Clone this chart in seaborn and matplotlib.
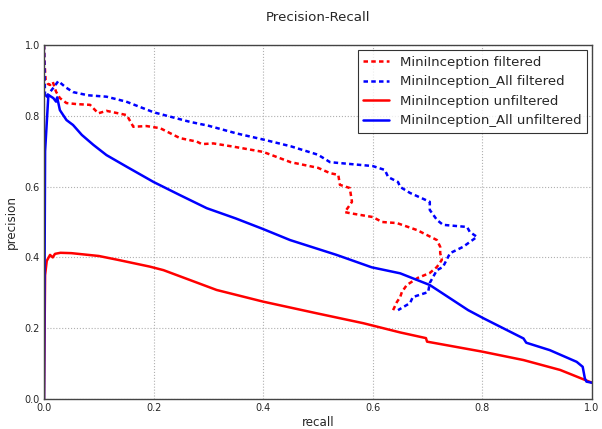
import matplotlib
matplotlib.use("Agg")
import matplotlib.pyplot as plt
import seaborn as sns
import pandas as pd

# ---- data ----
red_f_recall = [0.0, 0.001, 0.003, 0.007, 0.011, 0.016, 0.022, 0.029, 0.041, 0.06, 0.084, 0.099,
                0.114, 0.151, 0.163, 0.187, 0.212, 0.248, 0.279, 0.288, 0.309, 0.345, 0.4, 0.45,
                0.5, 0.522, 0.537, 0.54, 0.558, 0.562, 0.549, 0.558, 0.6, 0.617, 0.644, 0.681,
                0.717, 0.723, 0.723, 0.726, 0.717, 0.704, 0.682, 0.662, 0.653, 0.65, 0.644, 0.637]
red_f_precision = [1.0, 0.95, 0.9, 0.89, 0.887, 0.896, 0.868, 0.85, 0.836, 0.833, 0.831, 0.807,
                   0.814, 0.802, 0.769, 0.771, 0.765, 0.737, 0.727, 0.72, 0.722, 0.713, 0.698,
                   0.669, 0.653, 0.638, 0.633, 0.605, 0.596, 0.557, 0.528, 0.525, 0.514, 0.5,
                   0.497, 0.477, 0.449, 0.43, 0.412, 0.393, 0.373, 0.356, 0.342, 0.322, 0.302,
                   0.288, 0.274, 0.251]

blue_f_recall = [0.0, 0.002, 0.01, 0.02, 0.026, 0.04, 0.053, 0.08, 0.114, 0.15, 0.2, 0.266,
                 0.3, 0.352, 0.4, 0.45, 0.5, 0.522, 0.6, 0.622, 0.628, 0.646, 0.65, 0.668, 0.704,
                 0.704, 0.717, 0.728, 0.772, 0.777, 0.79, 0.765, 0.741, 0.728, 0.717, 0.704,
                 0.701, 0.673, 0.668, 0.646]
blue_f_precision = [1.0, 0.85, 0.865, 0.885, 0.898, 0.88, 0.867, 0.858, 0.854, 0.84, 0.81, 0.783,
                    0.772, 0.75, 0.733, 0.714, 0.69, 0.669, 0.658, 0.647, 0.627, 0.613, 0.599,
                    0.582, 0.557, 0.534, 0.506, 0.492, 0.486, 0.472, 0.458, 0.43, 0.412, 0.373,
                    0.364, 0.328, 0.302, 0.288, 0.271, 0.251]

red_u_recall = [0.0, 0.002, 0.005, 0.011, 0.016, 0.02, 0.03, 0.05, 0.1, 0.135, 0.193, 0.218,
                0.315, 0.4, 0.498, 0.583, 0.65, 0.697, 0.699, 0.799, 0.875, 0.942, 0.987, 1.0]
red_u_precision = [0.0, 0.35, 0.39, 0.407, 0.40, 0.41, 0.413, 0.412, 0.404, 0.393, 0.374, 0.364,
                   0.308, 0.275, 0.242, 0.214, 0.188, 0.172, 0.162, 0.134, 0.11, 0.082, 0.054,
                   0.046]

blue_u_recall = [0.0, 0.002, 0.008, 0.017, 0.022, 0.024, 0.029, 0.041, 0.053, 0.069, 0.09,
                 0.114, 0.151, 0.2, 0.248, 0.297, 0.35, 0.4, 0.449, 0.534, 0.598, 0.65, 0.704,
                 0.774, 0.802, 0.875, 0.88, 0.923, 0.972, 0.983, 0.987, 0.99, 1.0]
blue_u_precision = [0.0, 0.7, 0.859, 0.85, 0.84, 0.852, 0.816, 0.788, 0.774, 0.746, 0.718,
                    0.689, 0.656, 0.613, 0.576, 0.539, 0.51, 0.48, 0.449, 0.407, 0.372, 0.355,
                    0.322, 0.251, 0.228, 0.171, 0.159, 0.138, 0.105, 0.091, 0.058, 0.049, 0.046]

series_labels = ["MiniInception filtered", "MiniInception_All filtered",
                 "MiniInception unfiltered", "MiniInception_All unfiltered"]

# ---- style ----
sns.set_style("white")
plt.rcParams["font.family"] = ["DejaVu Sans"]

fig = plt.figure(figsize=(6.02, 4.29), dpi=100)
ax = fig.add_axes([44 / 602, 1 - 399 / 429, 548 / 602, 354 / 429])

dash = (1.8, 1.3)
lw = 1.8
specs = [
    (red_f_recall, red_f_precision, "red", True, series_labels[0]),
    (blue_f_recall, blue_f_precision, "blue", True, series_labels[1]),
    (red_u_recall, red_u_precision, "red", False, series_labels[2]),
    (blue_u_recall, blue_u_precision, "blue", False, series_labels[3]),
]
for rx, py, col, dashed, lab in specs:
    df = pd.DataFrame({"recall": rx, "precision": py})
    sns.lineplot(data=df, x="recall", y="precision", sort=False, estimator=None,
                 color=col, lw=lw, label=lab, ax=ax)
    if dashed:
        ax.lines[-1].set_dashes(dash)

ax.set_xlim(0, 1)
ax.set_ylim(0, 1)
ticks = [0, 0.2, 0.4, 0.6, 0.8, 1.0]
tick_labels = ["0.0", "0.2", "0.4", "0.6", "0.8", "1.0"]
ax.set_xticks(ticks)
ax.set_yticks(ticks)
ax.set_xticklabels(tick_labels)
ax.set_yticklabels(tick_labels)
ax.tick_params(axis="both", length=0, labelsize=7, pad=3)
ax.grid(True, color="#b0b0b0", linestyle=":", linewidth=0.8)
for s in ax.spines.values():
    s.set_color("#444444")
    s.set_linewidth(1.0)

ax.set_xlabel("recall", fontsize=8.6, labelpad=2)
ax.set_ylabel("precision", fontsize=8.6, labelpad=5)
ax.set_title("Precision-Recall", fontsize=9.6, pad=17)

leg = ax.legend(loc="upper right", fontsize=9.5, frameon=True, fancybox=False,
                handlelength=2, borderaxespad=0.4)
leg.get_frame().set_edgecolor("black")
leg.get_frame().set_linewidth(0.8)

fig.savefig("out.png", dpi=100)
